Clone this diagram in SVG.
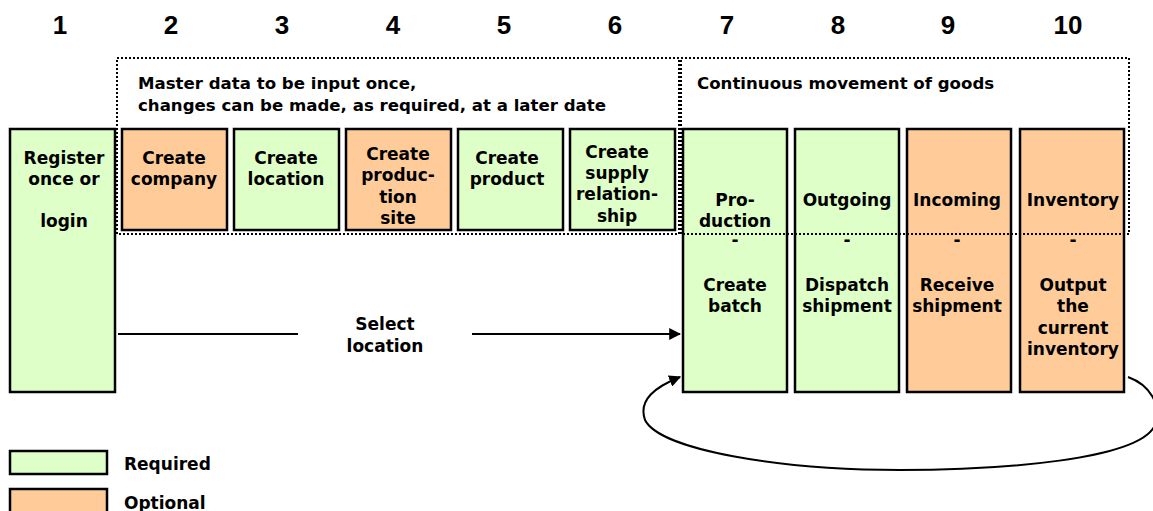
<svg xmlns="http://www.w3.org/2000/svg" width="1153" height="511" viewBox="0 0 1153 511">
<style>
.req{fill:#DFFFC8;stroke:#000;stroke-width:2.5}
.opt{fill:#FFCC99;stroke:#000;stroke-width:2.5}
.dot{fill:none;stroke:#000;stroke-width:2;stroke-dasharray:2 2}
.t{font-family:"DejaVu Sans",Verdana,sans-serif;font-weight:bold;font-size:17px;text-anchor:middle;fill:#000}
.n{font-family:"Liberation Sans",Arial,sans-serif;font-weight:bold;font-size:26px;text-anchor:middle;fill:#000}
.l{font-family:"DejaVu Sans",Verdana,sans-serif;font-weight:bold;font-size:17px;fill:#000}
.g{font-family:"DejaVu Sans",Verdana,sans-serif;font-weight:bold;font-size:16.6px;fill:#000}
.c{fill:none;stroke:#000;stroke-width:2}
</style>
<defs>
<marker id="ah" viewBox="0 0 10 10" refX="9" refY="5" markerWidth="6" markerHeight="6" orient="auto" markerUnits="strokeWidth">
<path d="M0,0 L10,5 L0,10 z" fill="#000"/>
</marker>
</defs>
<g id="numbers">
<text class="n" x="60" y="34">1</text>
<text class="n" x="171" y="34">2</text>
<text class="n" x="282" y="34">3</text>
<text class="n" x="393" y="34">4</text>
<text class="n" x="504" y="34">5</text>
<text class="n" x="615" y="34">6</text>
<text class="n" x="727" y="34">7</text>
<text class="n" x="838" y="34">8</text>
<text class="n" x="948" y="34">9</text>
<text class="n" x="1068" y="34">10</text>
</g>
<g id="n1"><rect class="req" x="10" y="129" width="105" height="263"/>
<text class="t" x="64" y="164">Register</text><text class="t" x="64" y="185">once or</text><text class="t" x="64" y="227">login</text></g>
<g id="n2"><rect class="opt" x="122" y="129" width="105" height="101"/>
<text class="t" x="174" y="164">Create</text><text class="t" x="174" y="185">company</text></g>
<g id="n3"><rect class="req" x="234" y="129" width="105" height="101"/>
<text class="t" x="286" y="164">Create</text><text class="t" x="286" y="185">location</text></g>
<g id="n4"><rect class="opt" x="346" y="129" width="105" height="101"/>
<text class="t" x="398" y="160">Create</text><text class="t" x="398" y="181">produc-</text><text class="t" x="398" y="203">tion</text><text class="t" x="398" y="224">site</text></g>
<g id="n5"><rect class="req" x="458" y="129" width="105" height="101"/>
<text class="t" x="507" y="164">Create</text><text class="t" x="507" y="185">product</text></g>
<g id="n6"><rect class="req" x="570" y="129" width="105" height="101"/>
<text class="t" x="617" y="158">Create</text><text class="t" x="617" y="179">supply</text><text class="t" x="617" y="200">relation-</text><text class="t" x="617" y="222">ship</text></g>
<g id="n7"><rect class="req" x="683" y="129" width="104" height="263"/>
<text class="t" x="735" y="206">Pro-</text><text class="t" x="735" y="227">duction</text><text class="t" x="735" y="246">-</text><text class="t" x="735" y="291">Create</text><text class="t" x="735" y="312">batch</text></g>
<g id="n8"><rect class="req" x="795" y="129" width="104" height="263"/>
<text class="t" x="847" y="206">Outgoing</text><text class="t" x="847" y="246">-</text><text class="t" x="847" y="291">Dispatch</text><text class="t" x="847" y="312">shipment</text></g>
<g id="n9"><rect class="opt" x="907" y="129" width="104" height="263"/>
<text class="t" x="957" y="206">Incoming</text><text class="t" x="957" y="246">-</text><text class="t" x="957" y="291">Receive</text><text class="t" x="957" y="312">shipment</text></g>
<g id="n10"><rect class="opt" x="1020" y="129" width="104" height="263"/>
<text class="t" x="1073" y="206">Inventory</text><text class="t" x="1073" y="246">-</text><text class="t" x="1073" y="291">Output</text><text class="t" x="1073" y="312">the</text><text class="t" x="1073" y="334">current</text><text class="t" x="1073" y="355">inventory</text></g>
<g id="groups">
<rect class="dot" x="117" y="58" width="562" height="176"/>
<rect class="dot" x="681" y="58" width="448" height="176"/>
<text class="g" x="138" y="89">Master data to be input once,</text>
<text class="g" x="138" y="111">changes can be made, as required, at a later date</text>
<text class="g" x="697" y="89">Continuous movement of goods</text>
</g>
<g id="connectors">
<line class="c" x1="118" y1="334" x2="298" y2="334"/>
<line class="c" x1="472" y1="334" x2="680" y2="334" marker-end="url(#ah)"/>
<text class="t" x="385" y="330">Select</text>
<text class="t" x="385" y="352">location</text>
<path class="c" d="M1128,377 C1150,385 1162,405 1155,425 C1140,460 1000,470 900,470 C780,470 660,450 645,420 C638,400 655,387 680,377" marker-end="url(#ah)"/>
</g>
<g id="legend">
<rect class="req" x="10" y="451" width="97" height="23"/>
<text class="l" x="124" y="470">Required</text>
<rect class="opt" x="10" y="489" width="97" height="25"/>
<text class="l" x="124" y="509">Optional</text>
</g>
</svg>
